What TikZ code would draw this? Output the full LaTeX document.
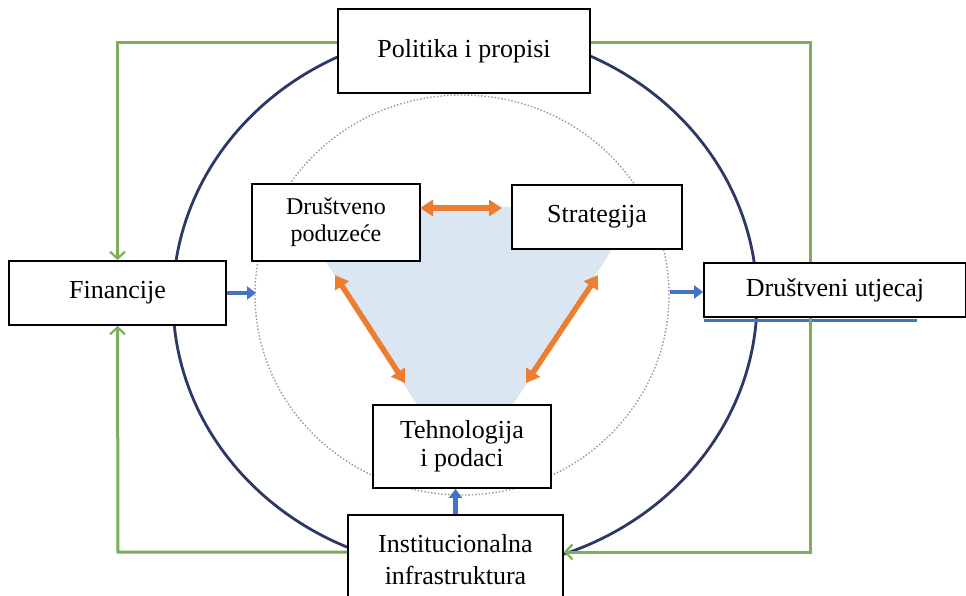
\documentclass[tikz,border=0pt]{standalone}
\usepackage{fontspec}
\setmainfont{Liberation Serif}
\usetikzlibrary{arrows.meta,calc}
\definecolor{navy}{RGB}{44,56,104}
\definecolor{grn}{RGB}{125,175,90}
\definecolor{orng}{RGB}{237,125,49}
\definecolor{blu}{RGB}{68,114,196}
\definecolor{lblue}{RGB}{219,230,243}
\definecolor{dgray}{RGB}{150,150,150}
\tikzset{
  box/.style={draw=black, line width=1.8pt, fill=white, align=center, inner sep=0pt,
    font=\fontsize{26}{28}\selectfont},
  greenline/.style={draw=grn, line width=3pt},
  greenarrow/.style={greenline, -{Straight Barb[length=7pt,width=15pt,line width=2.2pt]}},
  bluearrow/.style={draw=blu, line width=4.2pt, -{Triangle[length=9pt,width=13pt]}},
  orangearrow/.style={draw=orng, line width=5.5pt, {Triangle[length=13pt,width=16pt]}-{Triangle[length=13pt,width=16pt]}},
}
\begin{document}
\begin{tikzpicture}[x=1pt,y=-1pt]
\clip (0,0) rectangle (966,596);
\fill[white] (0,0) rectangle (966,596);
% blue triangle
\fill[lblue] (291,207) -- (639,207) -- (465,480) -- cycle;
% dotted inner ellipse
\draw[dgray, line width=1.4pt, dotted] (462,295) ellipse [x radius=207pt, y radius=200pt];
% navy ellipse
\draw[navy, line width=2.8pt] (465,300) ellipse [x radius=292pt, y radius=270pt];
% shadow line under Drustveni utjecaj
\draw[blu, line width=3pt] (704,320) -- (917,320);
% nodes
\node[box, minimum width=252pt, minimum height=84pt] (pol) at (464,51) {Politika i propisi};
\node[box, minimum width=217pt, minimum height=64pt] (fin) at (117.5,293) {Financije};
\node[box, minimum width=262pt, minimum height=54pt] (dru) at (835,290) {Društveni utjecaj};
\node[box, minimum width=168pt, minimum height=77pt, font=\fontsize{24}{27}\selectfont] (dp) at (336,222.5) {Društveno\\poduzeće};
\node[box, minimum width=170pt, minimum height=64pt] (str) at (597,217) {Strategija};
\node[box, minimum width=178pt, minimum height=83pt] (teh) at (462,446.5) {Tehnologija\\i podaci};
\node[box, minimum width=215pt, minimum height=90pt, font=\fontsize{26}{32}\selectfont] (inst) at (455.5,560) {Institucionalna\\infrastruktura};
% green feedback lines
\coordinate (gL) at (118,552);
\coordinate (gR) at (810,552);
\coordinate (gTR) at (810,43);
\draw[greenarrow] ([yshift=8pt]pol.west) -| (fin.north);
\draw[greenarrow] (inst.west |- gL) -- (gL) -- (fin.south);
\draw[greenline] ([yshift=8pt]pol.east) -- (gTR) -- (dru.north -| gTR);
\draw[greenarrow] (dru.south -| gR) -- (gR) -- (inst.east |- gR);
% blue arrows
\coordinate (finEnd) at (256,293);
\coordinate (druStart) at (670,292);
\draw[bluearrow] (fin.east) -- (finEnd);
\draw[bluearrow] (druStart) -- (dru.west |- druStart);
\draw[bluearrow] (inst.north) -- (inst.north |- teh.south);
% orange arrows
\coordinate (o1a) at (420,208);
\coordinate (o1b) at (502,208);
\coordinate (o2a) at (335,275);
\coordinate (o2b) at (405,383);
\coordinate (o3a) at (598,275);
\coordinate (o3b) at (526,383);
\draw[orangearrow] (o1a) -- (o1b);
\draw[orangearrow] (o2a) -- (o2b);
\draw[orangearrow] (o3a) -- (o3b);
\end{tikzpicture}
\end{document}
